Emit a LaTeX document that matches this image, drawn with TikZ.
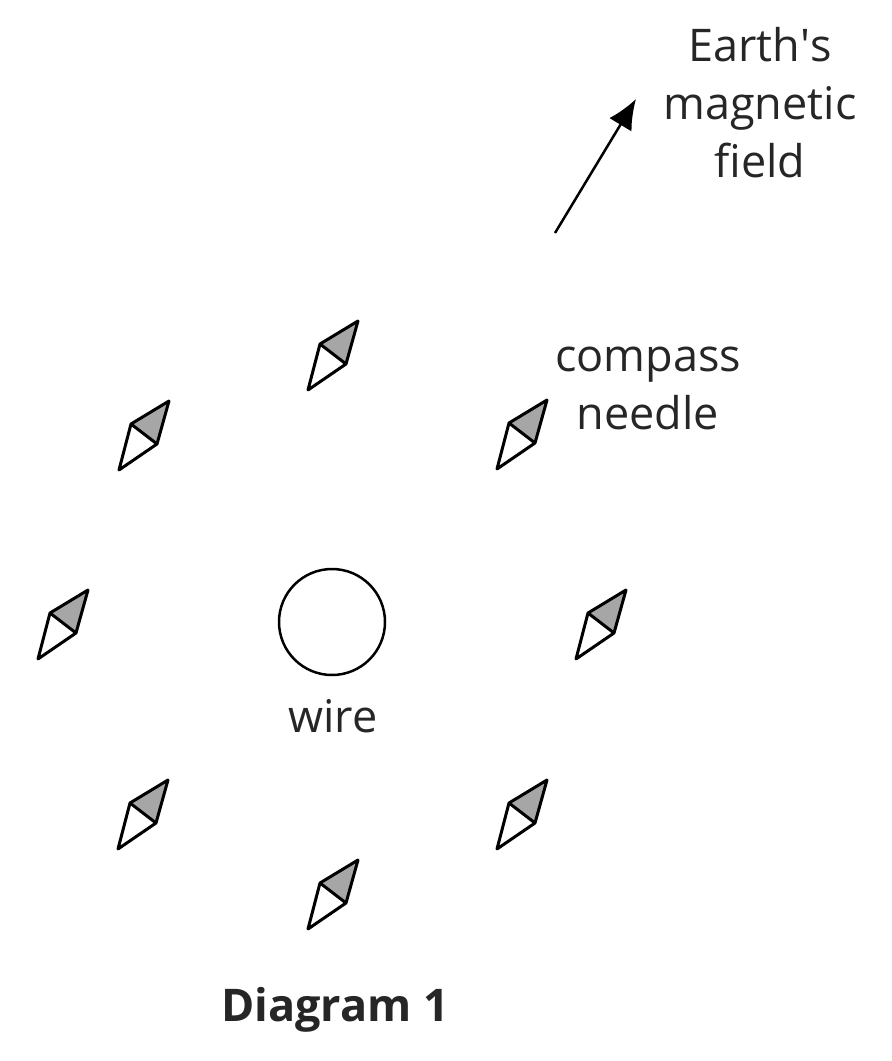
\documentclass[tikz,border=0pt]{standalone}
\usepackage{fontspec}
\setmainfont{Open Sans}
\usetikzlibrary{arrows.meta}
\begin{document}
\begin{tikzpicture}[x=1pt,y=-1pt,line width=3pt,line join=round,
  lbl/.style={font=\fontsize{45}{58}\selectfont,align=center,text=black!85}]
\useasboundingbox (0,0) rectangle (892,1061);
\newcommand\needle[2]{%
  \begin{scope}[shift={(#1,#2)}]
    \fill[gray!70] (25,-33) -- (-13,-10) -- (13,10) -- cycle;
    \draw (25,-33) -- (-13,-10) -- (-25,36) -- (13,10) -- cycle;
    \draw (-13,-10) -- (13,10);
  \end{scope}}
\needle{333}{354}
\needle{144}{434}
\needle{522}{433}
\needle{63}{623}
\needle{601}{623}
\needle{143}{813}
\needle{522}{813}
\needle{333}{893}
\node[circle,draw,minimum size=106pt,line width=2.5pt] (wire) at (332,622) {};
\node[lbl] (wl) at (333,716) {wire};
\coordinate (a0) at (555,233);
\coordinate (a1) at (636,99);
\draw[line width=2.5pt,-{Latex[length=30pt,width=26pt]}] (a0) -- (a1);
\node[lbl] (earth) at (760,103) {Earth\textquotesingle s\\magnetic\\field};
\node[lbl] (cn) at (648,388) {compass\\needle};
\node[lbl,font=\fontsize{45}{58}\selectfont\bfseries] (d) at (335,1010) {Diagram 1};
\end{tikzpicture}
\end{document}
